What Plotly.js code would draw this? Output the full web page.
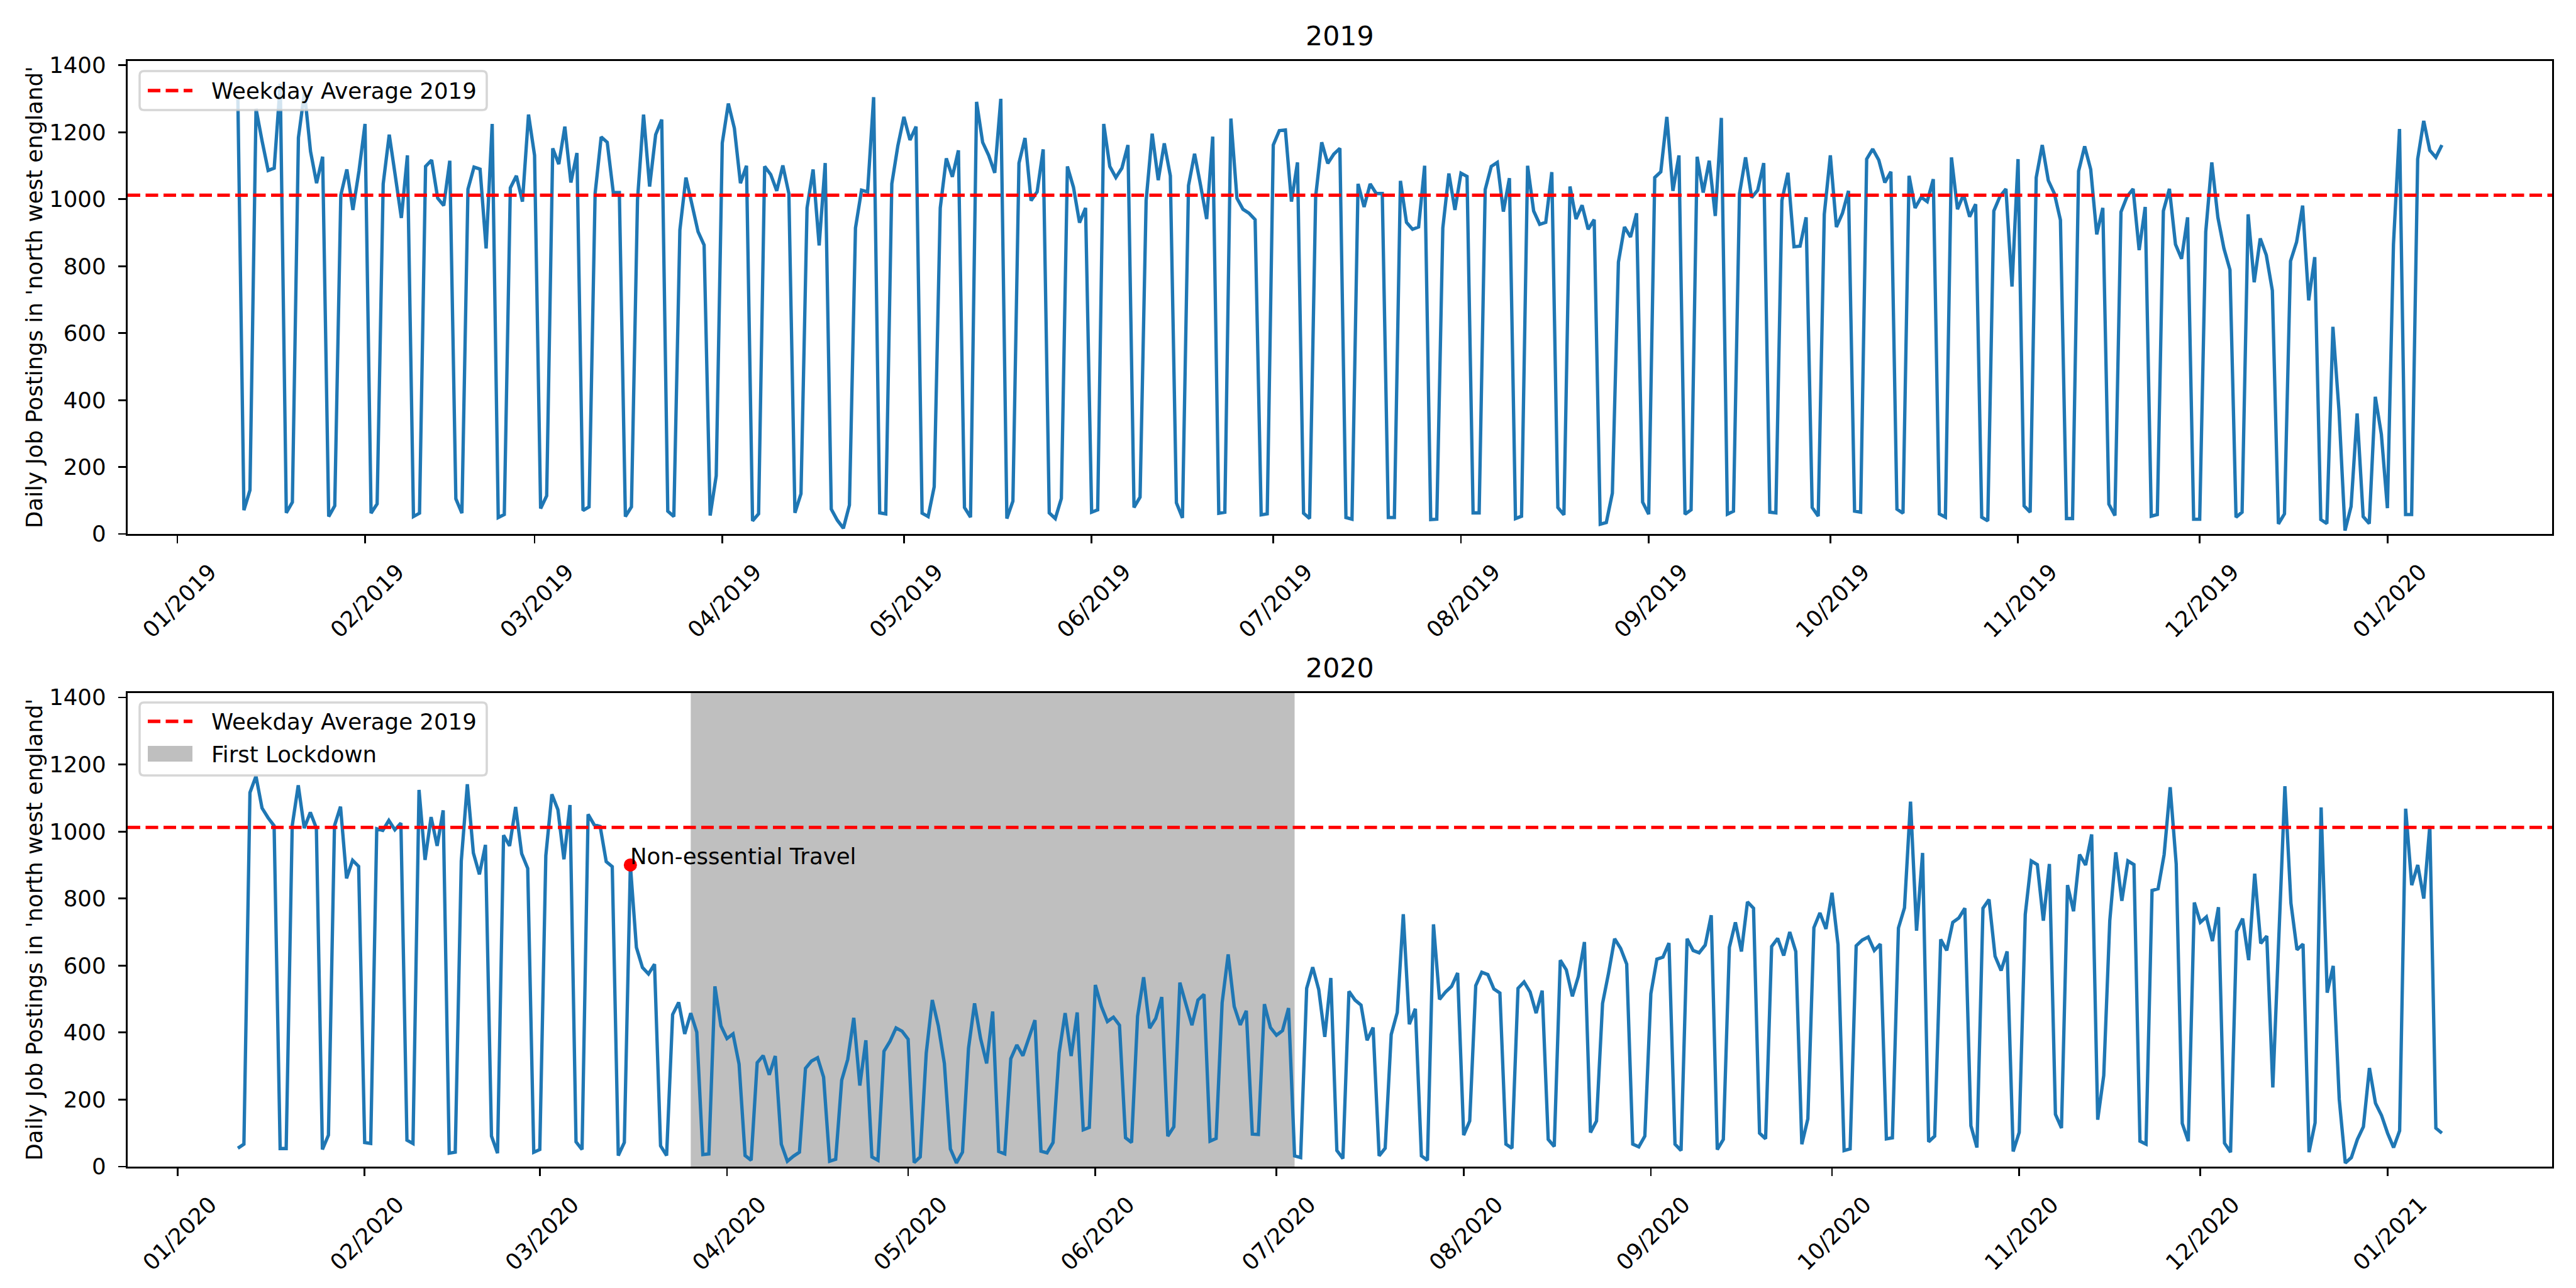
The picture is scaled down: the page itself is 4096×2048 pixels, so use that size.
<!DOCTYPE html>
<html>
<head>
<meta charset="utf-8">
<script src="https://cdn.plot.ly/plotly-3.0.1.min.js"></script>
<style>
  html, body { margin: 0; padding: 0; background: #ffffff; }
  #chart { width: 4096px; height: 2048px; }
</style>
</head>
<body>
<div id="chart"></div>
<script>
// ---------------- DATA ----------------
// Daily job postings, north west england, 2019 panel: 2019-01-11 .. 2020-01-10
const start2019 = '2019-01-11';
const postings2019 = [
  // Jan 11-31
  1300, 71, 131, 1270, 1174, 1086, 1093, 1345, 63, 95, 1184, 1320, 1143, 1048, 1127, 52, 84, 1012, 1089, 968, 1084,
  // Feb
  1225, 62, 90, 1046, 1193, 1070, 944, 1131, 52, 62, 1098, 1117, 1003, 981, 1115, 105, 62, 1030, 1096, 1090, 853, 1225, 49, 58, 1034, 1070, 993, 1253,
  // Mar
  1131, 76, 114, 1152, 1105, 1217, 1050, 1138, 70, 81, 1017, 1186, 1170, 1020, 1020, 52, 81, 998, 1253, 1038, 1193, 1238, 68, 52, 908, 1065, 989, 903, 863, 55, 174,
  // Apr
  1168, 1286, 1212, 1048, 1100, 39, 60, 1098, 1074, 1025, 1101, 1017, 63, 120, 974, 1089, 862, 1108, 74, 41, 17, 86, 914, 1027, 1022, 1305, 63, 60, 1046, 1160,
  // May
  1246, 1177, 1217, 62, 52, 141, 974, 1122, 1067, 1146, 79, 50, 1291, 1170, 1131, 1079, 1300, 46, 98, 1108, 1183, 996, 1022, 1149, 63, 46, 106, 1098, 1036, 930, 974,
  // Jun
  65, 72, 1225, 1098, 1065, 1093, 1162, 79, 110, 996, 1196, 1057, 1167, 1070, 93, 48, 1041, 1136, 1041, 941, 1187, 62, 65, 1241, 1003, 970, 958, 939, 57, 60,
  // Jul
  1162, 1205, 1207, 993, 1110, 62, 46, 1008, 1170, 1107, 1135, 1152, 49, 44, 1046, 977, 1046, 1017, 1017, 49, 49, 1055, 931, 910, 917, 1100, 43, 44, 914, 1077, 968,
  // Aug
  1078, 1068, 63, 63, 1029, 1098, 1110, 963, 1063, 46, 53, 1100, 965, 925, 931, 1081, 79, 57, 1038, 941, 982, 910, 939, 29, 34, 122, 812, 917, 887, 958, 95,
  // Sep
  59, 1065, 1082, 1246, 1025, 1131, 59, 72, 1127, 1020, 1115, 950, 1243, 59, 68, 1017, 1125, 1005, 1027, 1108, 65, 63, 996, 1079, 858, 860, 946, 79, 53, 955,
  // Oct
  1131, 917, 958, 1025, 68, 65, 1120, 1150, 1117, 1050, 1082, 74, 62, 1070, 974, 1006, 993, 1060, 60, 50, 1125, 970, 1014, 948, 985, 50, 39, 965, 1008, 1031, 739,
  // Nov
  1120, 84, 65, 1065, 1162, 1056, 1017, 938, 46, 46, 1084, 1158, 1089, 895, 974, 89, 55, 962, 1008, 1031, 848, 977, 53, 58, 965, 1031, 865, 822, 946, 44,
  // Dec
  44, 903, 1110, 946, 853, 789, 50, 65, 955, 752, 883, 833, 727, 30, 60, 815, 872, 981, 698, 827, 43, 31, 619, 370, 10, 82, 360, 52, 31, 410, 298,
  // Jan 1-10 2020
  77, 865, 1210, 58, 58, 1120, 1234, 1146, 1125, 1162
];

// 2020 panel: 2020-01-11 .. 2021-01-10
const start2020 = '2020-01-11';
const postings2020 = [
  // Jan 11-31
  55, 67, 1116, 1165, 1070, 1041, 1017, 54, 54, 1017, 1138, 1010, 1057, 1010, 51, 94, 1017, 1074, 860, 914, 896,
  // Feb
  72, 69, 1008, 1003, 1033, 1005, 1025, 79, 69, 1124, 915, 1043, 957, 1063, 40, 43, 912, 1141, 936, 872, 960, 91, 40, 989, 957, 1073, 934, 890, 43,
  // Mar
  51, 928, 1111, 1065, 917, 1079, 74, 51, 1051, 1020, 1015, 910, 895, 33, 72, 900, 654, 594, 575, 604, 62, 33, 454, 490, 396, 458, 401, 36, 38, 538, 420,
  // Apr
  382, 396, 306, 33, 19, 310, 331, 274, 330, 67, 16, 31, 43, 293, 315, 325, 267, 16, 22, 258, 320, 444, 242, 377, 29, 19, 344, 374, 414, 404,
  // May
  380, 12, 29, 339, 497, 420, 308, 53, 11, 43, 353, 487, 382, 308, 463, 45, 38, 322, 363, 331, 384, 437, 46, 41, 72, 339, 458, 330, 460, 110, 117,
  // Jun
  542, 478, 433, 446, 422, 86, 72, 449, 565, 413, 442, 506, 91, 119, 549, 485, 422, 497, 514, 76, 84, 489, 633, 478, 423, 465, 97, 96, 485, 415,
  // Jul
  392, 406, 473, 32, 27, 532, 595, 528, 387, 563, 48, 24, 523, 497, 482, 377, 415, 32, 55, 394, 460, 753, 425, 471, 32, 19, 723, 499, 521, 538, 578,
  // Aug
  94, 136, 540, 580, 573, 530, 518, 67, 55, 532, 551, 521, 458, 525, 81, 60, 616, 587, 508, 568, 670, 102, 136, 487, 578, 680, 651, 604, 67, 59, 91,
  // Sep
  516, 619, 625, 667, 67, 48, 680, 645, 638, 661, 750, 51, 81, 654, 729, 642, 790, 771, 100, 83, 657, 681, 630, 700, 642, 67, 143, 713, 757, 709,
  // Oct
  817, 662, 48, 53, 659, 676, 685, 645, 664, 83, 86, 712, 772, 1089, 704, 936, 74, 91, 678, 645, 729, 742, 771, 122, 57, 771, 797, 628, 585, 642, 45,
  // Nov
  102, 752, 912, 901, 734, 903, 156, 115, 840, 762, 931, 900, 991, 140, 272, 734, 938, 793, 912, 901, 76, 67, 824, 829, 931, 1132, 903, 129, 76, 788,
  // Dec
  729, 745, 673, 774, 70, 43, 702, 740, 616, 874, 666, 688, 236, 690, 1135, 786, 647, 664, 43, 131, 1072, 519, 599, 201, 11, 27, 81, 119, 294, 189, 153,
  // Jan 1-10 2021
  100, 57, 107, 1068, 840, 900, 800, 1017, 115, 100
];

const weekdayAverage2019 = 1012;
const lockdownStart = '2020-03-26';
const lockdownEnd = '2020-07-04';
const eventDates = ['2020-03-16'];
const eventValues = [900];
const eventLabels = ['Non-essential Travel'];

const panelTitles = ['2019', '2020'];
const yLabel = "Daily Job Postings in 'north west england'";
const avgLabel = 'Weekday Average 2019';
const lockdownLabel = 'First Lockdown';

// ---------------- HELPERS ----------------
function pad2(n) { return (n < 10 ? '0' : '') + n; }
function fmtDay(ms) {
  const d = new Date(ms);
  return d.getUTCFullYear() + '-' + pad2(d.getUTCMonth() + 1) + '-' + pad2(d.getUTCDate());
}
function fmtTime(ms) {
  const d = new Date(ms);
  return fmtDay(ms) + ' ' + pad2(d.getUTCHours()) + ':' + pad2(d.getUTCMinutes()) + ':' + pad2(d.getUTCSeconds());
}
function parseDay(s) {
  const p = s.split('-').map(Number);
  return Date.UTC(p[0], p[1] - 1, p[2]);
}
function dailyDates(startStr, n) {
  const out = [];
  const t0 = parseDay(startStr);
  for (let i = 0; i < n; i++) out.push(fmtDay(t0 + i * 86400000));
  return out;
}
function paddedRange(dates) {
  const a = parseDay(dates[0]), b = parseDay(dates[dates.length - 1]);
  const m = 0.05 * (b - a);
  return [fmtTime(a - m), fmtTime(b + m)];
}

const dates2019 = dailyDates(start2019, postings2019.length);
const dates2020 = dailyDates(start2020, postings2020.length);

// ---------------- GEOMETRY (pixels) ----------------
const W = 4096, H = 2048;
const mL = 203, mR = W - 4058, mT = 97, mB = H - 1855;
const plotW = W - mL - mR, plotH = H - mT - mB;
const px = v => (v - mL) / plotW;          // pixel x -> paper
const py = v => (H - mB - v) / plotH;      // pixel y -> paper
const topDomain = [py(849), 1];
const botDomain = [0, py(1102)];

const PT = 256 / 72;               // matplotlib points -> px at dpi 256
const FS = 10 * PT;                // 10pt
const FS_TITLE = 12 * PT;
const LW = 1.5 * PT;
const blue = '#1f77b4';
const dashStr = '20px,8.5px';

function roundRect(x0, y0, x1, y1, r) {
  const X = v => px(v).toFixed(6), Y = v => py(v).toFixed(6);
  return 'M' + X(x0 + r) + ',' + Y(y0) +
    ' L' + X(x1 - r) + ',' + Y(y0) +
    ' Q' + X(x1) + ',' + Y(y0) + ' ' + X(x1) + ',' + Y(y0 + r) +
    ' L' + X(x1) + ',' + Y(y1 - r) +
    ' Q' + X(x1) + ',' + Y(y1) + ' ' + X(x1 - r) + ',' + Y(y1) +
    ' L' + X(x0 + r) + ',' + Y(y1) +
    ' Q' + X(x0) + ',' + Y(y1) + ' ' + X(x0) + ',' + Y(y1 - r) +
    ' L' + X(x0) + ',' + Y(y0 + r) +
    ' Q' + X(x0) + ',' + Y(y0) + ' ' + X(x0 + r) + ',' + Y(y0) + ' Z';
}

// ---------------- TRACES ----------------
const traces = [
  { type: 'scatter', mode: 'lines', x: dates2019, y: postings2019, xaxis: 'x', yaxis: 'y',
    line: { color: blue, width: LW }, hoverinfo: 'skip', showlegend: false },
  { type: 'scatter', mode: 'lines', x: dates2020, y: postings2020, xaxis: 'x2', yaxis: 'y2',
    line: { color: blue, width: LW }, hoverinfo: 'skip', showlegend: false },
  { type: 'scatter', mode: 'markers', x: eventDates, y: eventValues, xaxis: 'x2', yaxis: 'y2',
    marker: { color: 'red', size: 21, line: { width: 0 } }, hoverinfo: 'skip', showlegend: false }
];

// ---------------- AXES ----------------
function xAxis(range, tick0, anchor) {
  return {
    type: 'date', range: range, anchor: anchor, domain: [0, 1],
    tick0: tick0, dtick: 'M1', tickformat: '%m/%Y', tickangle: -45,
    ticks: 'outside', ticklen: 0.35 * 10 * PT, tickwidth: 0.8 * PT, tickcolor: '#000',
    ticklabelstandoff: 10, ticklabelshift: 52,
    showline: true, linecolor: '#000', linewidth: 0.8 * PT, mirror: true,
    showgrid: false, zeroline: false,
    tickfont: { family: 'DejaVu Sans', size: FS, color: '#000' }
  };
}
function yAxis(domain, anchor) {
  return {
    range: [0, 1413], domain: domain, anchor: anchor,
    tick0: 0, dtick: 200,
    ticks: 'outside', ticklen: 0.35 * 10 * PT, tickwidth: 0.8 * PT, tickcolor: '#000',
    ticklabelstandoff: 12,
    showline: true, linecolor: '#000', linewidth: 0.8 * PT, mirror: true,
    showgrid: false, zeroline: false,
    tickfont: { family: 'DejaVu Sans', size: FS, color: '#000' }
  };
}

// ---------------- SHAPES ----------------
const shapes = [
  // lockdown span (below traces)
  { type: 'rect', xref: 'x2', yref: 'y2 domain', x0: lockdownStart, x1: lockdownEnd, y0: 0, y1: 1,
    fillcolor: 'rgba(128,128,128,0.5)', line: { width: 0 }, layer: 'below' },
  // weekday average lines
  { type: 'line', xref: 'x domain', yref: 'y', x0: 0, x1: 1, y0: weekdayAverage2019, y1: weekdayAverage2019,
    line: { color: 'red', width: LW, dash: dashStr }, layer: 'above' },
  { type: 'line', xref: 'x2 domain', yref: 'y2', x0: 0, x1: 1, y0: weekdayAverage2019, y1: weekdayAverage2019,
    line: { color: 'red', width: LW, dash: dashStr }, layer: 'above' },
  // legend frames
  { type: 'path', xref: 'paper', yref: 'paper', path: roundRect(222, 113, 774, 175, 7),
    fillcolor: 'rgba(255,255,255,0.8)', line: { color: 'rgba(204,204,204,0.8)', width: 1.0 * PT }, layer: 'above' },
  { type: 'path', xref: 'paper', yref: 'paper', path: roundRect(222, 1117, 774, 1233, 7),
    fillcolor: 'rgba(255,255,255,0.8)', line: { color: 'rgba(204,204,204,0.8)', width: 1.0 * PT }, layer: 'above' },
  // legend handles
  { type: 'line', xref: 'paper', yref: 'paper', x0: px(235), x1: px(306), y0: py(144), y1: py(144),
    line: { color: 'red', width: LW, dash: dashStr }, layer: 'above' },
  { type: 'line', xref: 'paper', yref: 'paper', x0: px(235), x1: px(306), y0: py(1147), y1: py(1147),
    line: { color: 'red', width: LW, dash: dashStr }, layer: 'above' },
  { type: 'rect', xref: 'paper', yref: 'paper', x0: px(235), x1: px(306), y0: py(1211), y1: py(1186),
    fillcolor: 'rgba(128,128,128,0.5)', line: { width: 0 }, layer: 'above' }
];

// ---------------- ANNOTATIONS ----------------
const txt = (size) => ({ family: 'DejaVu Sans', size: size, color: '#000' });
const annotations = [
  { xref: 'paper', yref: 'paper', x: 0.5, y: py(84), xanchor: 'center', yanchor: 'bottom',
    text: panelTitles[0], showarrow: false, font: txt(FS_TITLE) },
  { xref: 'paper', yref: 'paper', x: 0.5, y: py(1089), xanchor: 'center', yanchor: 'bottom',
    text: panelTitles[1], showarrow: false, font: txt(FS_TITLE) },
  { xref: 'paper', yref: 'paper', x: px(54), y: py(473), xanchor: 'center', yanchor: 'middle',
    text: yLabel, textangle: -90, showarrow: false, font: txt(FS) },
  { xref: 'paper', yref: 'paper', x: px(54), y: py(1478.5), xanchor: 'center', yanchor: 'middle',
    text: yLabel, textangle: -90, showarrow: false, font: txt(FS) },
  // legend labels
  { xref: 'paper', yref: 'paper', x: px(334), y: py(144), xanchor: 'left', yanchor: 'middle',
    text: avgLabel, showarrow: false, font: txt(FS) },
  { xref: 'paper', yref: 'paper', x: px(334), y: py(1147), xanchor: 'left', yanchor: 'middle',
    text: avgLabel, showarrow: false, font: txt(FS) },
  { xref: 'paper', yref: 'paper', x: px(334), y: py(1199), xanchor: 'left', yanchor: 'middle',
    text: lockdownLabel, showarrow: false, font: txt(FS) }
];
eventDates.forEach((d, i) => {
  annotations.push({ xref: 'x2', yref: 'y2', x: d, y: eventValues[i], xanchor: 'left', yanchor: 'bottom',
    yshift: -9, xshift: -2, text: eventLabels[i], showarrow: false, font: txt(FS) });
});

// ---------------- LAYOUT ----------------
const layout = {
  width: W, height: H,
  margin: { l: mL, r: mR, t: mT, b: mB, pad: 0 },
  paper_bgcolor: '#ffffff', plot_bgcolor: '#ffffff',
  font: { family: 'DejaVu Sans', size: FS, color: '#000' },
  showlegend: false,
  xaxis: xAxis(paddedRange(dates2019), '2019-01-01', 'y'),
  yaxis: yAxis(topDomain, 'x'),
  xaxis2: xAxis(paddedRange(dates2020), '2020-01-01', 'y2'),
  yaxis2: yAxis(botDomain, 'x2'),
  shapes: shapes,
  annotations: annotations
};

Plotly.newPlot('chart', traces, layout, { staticPlot: true, displayModeBar: false });
</script>
</body>
</html>
